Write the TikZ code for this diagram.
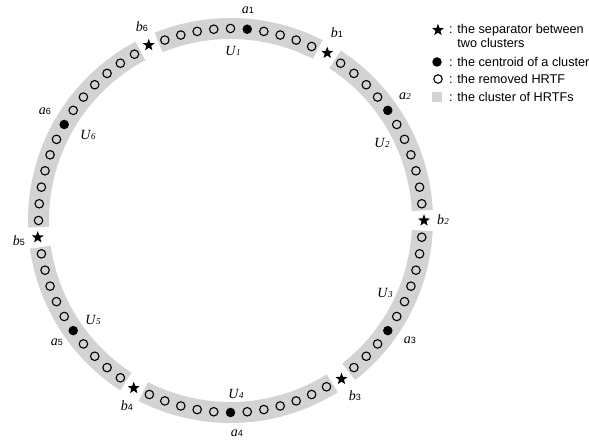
\documentclass[tikz,border=0pt]{standalone}
\usepackage{fontspec}
\setmainfont{Liberation Serif}
\newfontfamily\legendfont{Liberation Sans}
\usetikzlibrary{shapes.geometric}
\definecolor{bandgray}{RGB}{211,211,211}
% italic letter with a small upright sans index
\newcommand{\lblsf}[2]{{\fontsize{14}{14}\selectfont\itshape #1}{\fontsize{9}{9}\selectfont\legendfont #2}}
% italic letter with a small italic serif index
\newcommand{\lblit}[2]{{\fontsize{14}{14}\selectfont\itshape #1\kern0.4pt{\fontsize{9}{9}\selectfont #2}}}
\begin{document}
\begin{tikzpicture}[x=1pt,y=1pt,
  hole/.style={circle,draw=black,line width=1.1pt,minimum size=8.5pt,inner sep=0pt},
  centroid/.style={circle,fill=black,minimum size=9.5pt,inner sep=0pt},
  sepstar/.style={star,star points=5,star point ratio=2.4,fill=black,minimum size=12.5pt,inner sep=0pt},
  lab/.style={inner sep=0pt},
  legtxt/.style={font=\fontsize{12.7}{12.7}\selectfont\legendfont,anchor=west,inner sep=0pt}]
\useasboundingbox (-230.5,-222.5) rectangle (358.5,220.5);

% cluster bands (annulus sectors between separators)
\foreach \s/\e in {63/112, 3/57, -52/-3, -117/-58, 188/237, 118/182}
  \fill[bandgray] (\s:181.5pt) arc[start angle=\s,end angle=\e,radius=181.5pt]
    -- (\e:202.5pt) arc[start angle=\e,end angle=\s,radius=202.5pt] -- cycle;

% removed HRTFs
\foreach \a in {65,70,75,80,90,95,100,105,110,
                5,10,15,20,25,30,40,45,50,55,
                310,315,320,330,335,340,345,350,355,
                245,250,255,260,265,275,280,285,290,295,300,
                190,195,200,205,210,220,225,230,235,
                120,125,130,135,140,145,155,160,165,170,175,180}
  \node[hole] (m\a) at (\a:192pt) {};

% centroids
\foreach \a/\n in {85/1, 35/2, 325/3, 270/4, 215/5, 150/6}
  \node[centroid] (a\n) at (\a:192pt) {};

% separators
\foreach \a/\n in {60/1, 0/2, 305/3, 240/4, 185/5, 115/6}
  \node[sepstar] (b\n) at (\a:193.5pt) {};

% labels
\node[lab] (la1) at (17.5,210.5) {\lblsf{a}{1}};
\node[lab] (lU1) at (2.5,169.5) {\lblit{U}{1}};
\node[lab] (lb6) at (-88.5,193.5) {\lblsf{b}{6}};
\node[lab] (lb1) at (106.5,187.5) {\lblsf{b}{1}};
\node[lab] (la2) at (174.5,124.5) {\lblit{a}{2}};
\node[lab] (lU2) at (151.5,77.5) {\lblit{U}{2}};
\node[lab] (lb2) at (212.5,0.5) {\lblit{b}{2}};
\node[lab] (lU3) at (154.5,-72.5) {\lblit{U}{3}};
\node[lab] (la3) at (179.5,-119.5) {\lblsf{a}{3}};
\node[lab] (lb3) at (124.5,-175.5) {\lblsf{b}{3}};
\node[lab] (lU4) at (5.5,-173.5) {\lblit{U}{4}};
\node[lab] (la4) at (6.5,-212.5) {\lblsf{a}{4}};
\node[lab] (lb4) at (-103.5,-185.5) {\lblsf{b}{4}};
\node[lab] (lb5) at (-211.5,-20.5) {\lblsf{b}{5}};
\node[lab] (lU5) at (-137.5,-99.5) {\lblit{U}{5}};
\node[lab] (la5) at (-173.5,-121.5) {\lblsf{a}{5}};
\node[lab] (la6) at (-185.5,109.5) {\lblsf{a}{6}};
\node[lab] (lU6) at (-142.5,85.5) {\lblit{U}{6}};

% legend
\node[sepstar] (kstar) at (207.5,190.5) {};
\node[legtxt] (tstar) at (218.5,190.5) {: the separator between};
\node[legtxt] (tstar2) at (218.5,177.5) {\phantom{: }two clusters};
\node[centroid] (kdot) at (206.5,158.5) {};
\node[legtxt] (tdot) at (218.5,158.5) {: the centroid of a cluster};
\node[hole] (khole) at (207.5,141.5) {};
\node[legtxt] (thole) at (218.5,141.5) {: the removed HRTF};
\node[fill=bandgray,minimum size=10pt,inner sep=0pt] (kband) at (206.5,123.5) {};
\node[legtxt] (tband) at (218.5,123.5) {: the cluster of HRTFs};
\end{tikzpicture}
\end{document}
